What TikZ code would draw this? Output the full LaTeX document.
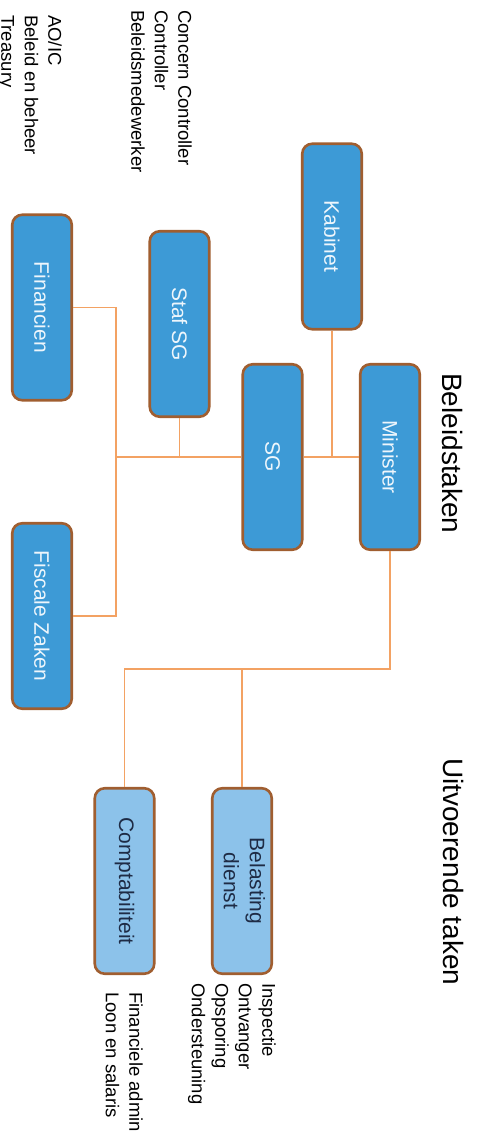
\documentclass[tikz,border=0pt]{standalone}
\usepackage{fontspec}
\setmainfont{Liberation Sans}
\usepackage{graphicx}
\definecolor{boxblue}{HTML}{3D9AD6}
\definecolor{lightblue}{HTML}{8CC2EA}
\definecolor{boxborder}{HTML}{A05E30}
\definecolor{connorange}{HTML}{F3A263}
\definecolor{navy}{HTML}{1E2B45}
\definecolor{boxtext}{HTML}{EEF6FC}
\begin{document}
\begin{tikzpicture}[x=1pt,y=-1pt,
  box/.style={draw=boxborder, line width=2.6pt, fill=boxblue, rounded corners=10pt,
    minimum width=59.5pt, minimum height=185.5pt, inner sep=0pt, text=boxtext,
    font=\fontsize{21}{26}\selectfont},
  lightbox/.style={box, fill=lightblue, text=navy},
  conn/.style={draw=connorange, line width=1.6pt},
  listtext/.style={rotate=-90, anchor=north west, align=left, inner sep=0pt,
    font=\fontsize{18.5}{23.5}\selectfont},
  heading/.style={rotate=-90, anchor=north west, inner sep=0pt,
    font=\fontsize{28}{32}\selectfont}]
\useasboundingbox (0,0) rectangle (481,1139);

% boxes
\node[box] (kab) at (332,236.5) {\rotatebox{-90}{Kabinet}};
\node[box] (min) at (390,457) {\rotatebox{-90}{Minister}};
\node[box] (sg) at (272.5,457) {\rotatebox{-90}{SG}};
\node[box] (staf) at (179.5,324) {\rotatebox{-90}{Staf SG}};
\node[box] (fin) at (42,307.5) {\rotatebox{-90}{Financien}};
\node[box] (fisc) at (42,616) {\rotatebox{-90}{Fiscale Zaken}};
\node[lightbox] (bel) at (242,881) {\rotatebox{-90}{\begin{tabular}{@{}c@{}}Belasting\\dienst\end{tabular}}};
\node[lightbox] (comp) at (124.5,881) {\rotatebox{-90}{Comptabiliteit}};

% headings
\node[heading] (hbel) at (463,373) {Beleidstaken};
\node[heading] (huit) at (464,758) {Uitvoerende taken};

% lists
\node[listtext] (lsg) at (192,10) {Concern Controller\\Controller\\Beleidsmedewerker};
\node[listtext] (lfin) at (62,15) {AO/IC\\Beleid en beheer\\Treasury};
\node[listtext] (lbel) at (276,983) {Inspectie\\Ontvanger\\Opsporing\\Ondersteuning};
\node[listtext] (lcomp) at (143,992) {Financiele admin\\Loon en salaris};

% connectors
\coordinate (jl) at (116,457);
\coordinate (jb) at (390,669);
\draw[conn] (kab.south) -- (kab.south |- min.west);
\draw[conn] (sg.east) -- (min.west);
\draw[conn] (sg.west) -- (jl);
\draw[conn] (staf.south) -- (staf.south |- sg.west);
\draw[conn] (fin.east) -- (fin.east -| jl) -- (fisc.east -| jl) -- (fisc.east);
\draw[conn] (min.south) -- (jb) -- (jb -| comp.north) -- (comp.north);
\draw[conn] (bel.north) -- (bel.north |- jb);
\end{tikzpicture}
\end{document}
